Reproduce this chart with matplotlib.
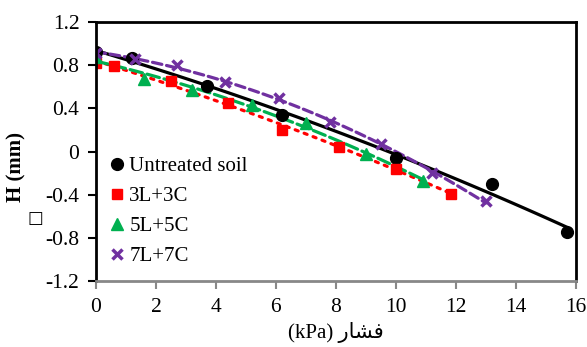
import matplotlib
matplotlib.use('Agg')
import matplotlib.pyplot as plt
from matplotlib.ticker import FuncFormatter
import numpy as np

plt.rcParams['font.family'] = ['Liberation Serif', 'DejaVu Sans']
plt.rcParams['axes.unicode_minus'] = False

# data
x_untreated = [0, 1.2, 3.7, 6.2, 10.0, 13.2, 15.7]
h_untreated = [0.92, 0.87, 0.61, 0.34, -0.06, -0.30, -0.75]

x_3l3c = [0, 0.6, 2.5, 4.4, 6.2, 8.1, 10.0, 11.85]
h_3l3c = [0.82, 0.79, 0.65, 0.45, 0.20, 0.045, -0.16, -0.39]

x_5l5c = [0, 1.6, 3.2, 5.2, 7.0, 9.0, 10.9]
h_5l5c = [0.88, 0.67, 0.57, 0.43, 0.26, -0.02, -0.27]

x_7l7c = [0, 1.3, 2.7, 4.3, 6.1, 7.8, 9.5, 11.2, 13.0]
h_7l7c = [0.91, 0.86, 0.80, 0.64, 0.50, 0.27, 0.07, -0.20, -0.46]

series = [
    ('Untreated soil', x_untreated, h_untreated, 'black', 'o', '-', 8.5),
    ('3L+3C', x_3l3c, h_3l3c, '#FF0000', 's', (0, (1, 2)), 7.5),
    ('5L+5C', x_5l5c, h_5l5c, '#00B050', '^', (0, (4, 1.5)), 8),
    ('7L+7C', x_7l7c, h_7l7c, '#7030A0', 'x', (0, (3, 1.5)), 7),
]

fig = plt.figure(figsize=(5.87, 3.47), dpi=100)
ax = fig.add_axes([0.1635, 0.19, 0.8175, 0.7466])

# 2nd order trend lines, like the excel ones
for name, x, y, c, m, ls, ms in series:
    p = np.polyfit(x, y, 2)
    xx = np.linspace(min(x), max(x), 100)
    ax.plot(xx, np.polyval(p, xx), color=c, linestyle=ls, lw=2.3,
            dash_capstyle='round' if ls != '-' else 'butt')

for name, x, y, c, m, ls, ms in series:
    ax.plot(x, y, linestyle='none', marker=m, color=c, markersize=ms,
            markeredgewidth=2.5 if m == 'x' else 1, label=name)

ax.set_xlim(0, 16)
ax.set_ylim(-1.2, 1.2)
ax.set_xticks(np.arange(0, 17, 2))
ax.set_yticks(np.arange(-1.2, 1.21, 0.4))
ax.yaxis.set_major_formatter(FuncFormatter(lambda v, pos: '%g' % round(v, 1)))
ax.tick_params(labelsize=15.5, length=6, width=1.5, direction='out')
ax.tick_params(axis='y', pad=6)
ax.tick_params(axis='x', colors='#888888', labelcolor='black', pad=6)

for s in ['left', 'top', 'right']:
    ax.spines[s].set_color('black')
    ax.spines[s].set_linewidth(2)
ax.spines['bottom'].set_color('#888888')
ax.spines['bottom'].set_linewidth(2)

# arabic word written in visual order with presentation forms (no shaping in mpl)
ax.set_xlabel('(kPa) \uFEAD\uFE8E\uFEB8\uFED3', fontsize=15, labelpad=4)
fig.text(16 / 587, 1 - 167 / 347, 'H (mm)', fontsize=15, fontweight='bold',
         rotation=90, ha='center', va='center')
fig.text(35 / 587, 1 - 218 / 347, '\u25a1', fontsize=12, ha='center', va='center',
         family=['DejaVu Sans'])

ax.legend(loc='lower left', bbox_to_anchor=(0.0, 0.0), frameon=False,
          fontsize=15, handlelength=0.6, handletextpad=0.3,
          labelspacing=0.5, borderaxespad=0.3)

fig.savefig('out.png', dpi=100)
